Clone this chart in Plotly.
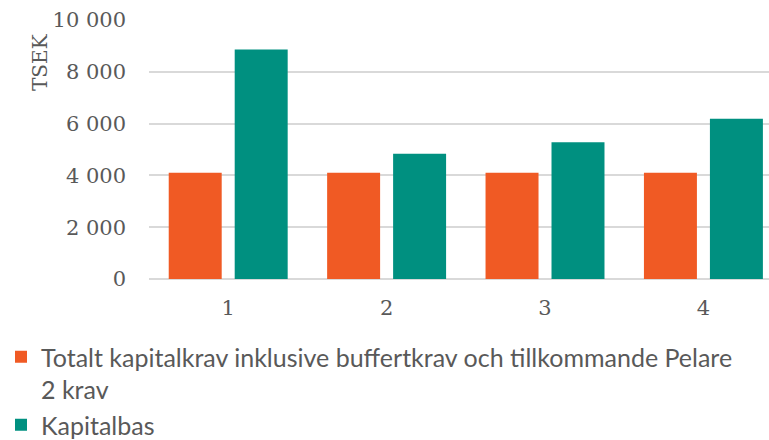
import plotly.graph_objects as go

categories = [1, 2, 3, 4]
krav_values = [4100, 4100, 4100, 4100]
kapitalbas_values = [8860, 4840, 5280, 6190]
series_names = ["Totalt kapitalkrav inklusive buffertkrav och tillkommande Pelare<br>2 krav", "Kapitalbas"]
y_tickvals = [0, 2000, 4000, 6000, 8000, 10000]
y_ticktext = ["0", "2 000", "4 000", "6 000", "8 000", "10 000"]

W, H = 769, 440
L, R, T, B = 149, 0, 20, 161
pw, ph = W - L - R, H - T - B

serif = "DejaVu Serif, Liberation Serif, serif"
legfont = "Lato, Roboto, sans-serif"
grey = "#595959"

fig = go.Figure()
fig.add_trace(go.Bar(x=categories, y=krav_values, name=series_names[0],
                     marker=dict(color="#F05A24", line=dict(width=0)), legendgroup="a"))
fig.add_trace(go.Bar(x=categories, y=kapitalbas_values, name=series_names[1],
                     marker=dict(color="#009080", line=dict(width=0)), legendgroup="b"))

fig.update_layout(
    width=W, height=H,
    margin=dict(l=L, r=R, t=T, b=B, pad=0, autoexpand=False),
    paper_bgcolor="white", plot_bgcolor="white",
    barmode="group", bargap=0.167, bargroupgap=0.197,
    xaxis=dict(range=[0.5, 4.414], tickvals=categories, showgrid=False, zeroline=False,
               showline=False, ticks="", tickfont=dict(family=serif, size=21, color=grey),
               ticklabelstandoff=14, fixedrange=True),
    yaxis=dict(range=[0, 10000], tickvals=y_tickvals, ticktext=y_ticktext,
               showgrid=True, gridcolor="#d9d9d9", gridwidth=1.5,
               zeroline=True, zerolinecolor="#d9d9d9", zerolinewidth=1.5,
               showline=False, ticks="", tickfont=dict(family=serif, size=21, color=grey),
               ticklabelstandoff=22, fixedrange=True),
    legend=dict(x=(1 - L) / pw, y=(T + ph - 334) / ph, xanchor="left", yanchor="top",
                orientation="v", valign="top", tracegroupgap=0,
                font=dict(family=legfont, size=25, color=grey), itemwidth=30,
                bgcolor="rgba(0,0,0,0)"),
    showlegend=True,
)
fig.add_annotation(text="TSEK", xref="paper", yref="paper",
                   x=(40 - L) / pw, y=(T + ph - 62) / ph, textangle=-90,
                   showarrow=False, xanchor="center", yanchor="middle",
                   font=dict(family=serif, size=20, color=grey))
fig.write_html("out.html", config={"displayModeBar": False},
               post_script="document.body.style.margin='0';")
